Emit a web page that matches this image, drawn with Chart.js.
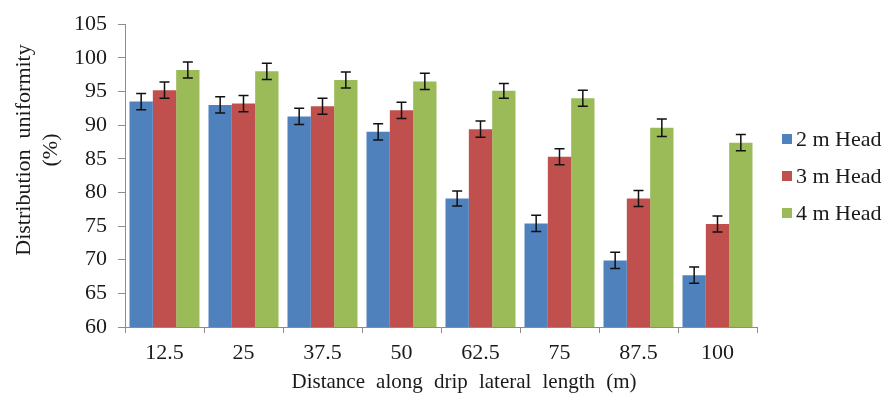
<!DOCTYPE html>
<html>
<head>
<meta charset="utf-8">
<script src="https://cdn.jsdelivr.net/npm/chart.js@4"></script>
<style>
  html, body { margin: 0; padding: 0; background: #ffffff; }
  #wrap { width: 891px; height: 394px; }
</style>
</head>
<body>
<div id="wrap"><canvas id="c" width="891" height="394"></canvas></div>
<script>
// Distribution uniformity (%) along a drip lateral, for three pressure heads
const distances = ['12.5', '25', '37.5', '50', '62.5', '75', '87.5', '100'];
const head2m = [93.5, 93.0, 91.3, 89.0, 79.1, 75.4, 69.9, 67.7];
const head3m = [95.2, 93.2, 92.8, 92.2, 89.4, 85.3, 79.1, 75.3];
const head4m = [98.2, 98.0, 96.7, 96.5, 95.1, 94.0, 89.6, 87.4];
const err2m = [1.2, 1.2, 1.2, 1.2, 1.1, 1.2, 1.2, 1.2];
const err3m = [1.2, 1.2, 1.2, 1.2, 1.2, 1.2, 1.2, 1.2];
const err4m = [1.2, 1.2, 1.2, 1.2, 1.1, 1.2, 1.3, 1.2];
const seriesNames = ['2 m Head', '3 m Head', '4 m Head'];
const yTicks = [60, 65, 70, 75, 80, 85, 90, 95, 100, 105];
const xTitle = ['Distance', 'along', 'drip', 'lateral', 'length', '(m)'];
const yTitle = ['Distribution  uniformity', '(%)'];

const FONT = '"Liberation Serif", "Times New Roman", serif';
const colors = ['#4F81BD', '#C0504D', '#9BBB59'];
const errors = [err2m, err3m, err4m];

// Error bars for each bar, from the bar's own value and the y scale
const errorBars = {
  id: 'errorBars',
  afterDatasetsDraw(chart) {
    const ctx = chart.ctx;
    const y = chart.scales.y;
    ctx.save();
    ctx.strokeStyle = '#111111';
    ctx.lineWidth = 1.5;
    chart.data.datasets.forEach((ds, di) => {
      const meta = chart.getDatasetMeta(di);
      meta.data.forEach((bar, i) => {
        const v = ds.data[i], e = errors[di][i];
        const top = y.getPixelForValue(v + e);
        const bot = y.getPixelForValue(v - e);
        const x = bar.x;
        ctx.beginPath();
        ctx.moveTo(x, top); ctx.lineTo(x, bot);
        ctx.moveTo(x - 5, top); ctx.lineTo(x + 5, top);
        ctx.moveTo(x - 5, bot); ctx.lineTo(x + 5, bot);
        ctx.stroke();
      });
    });
    ctx.restore();
  }
};

// Axis titles and legend at the right
const labels = {
  id: 'labels',
  afterDraw(chart) {
    const ctx = chart.ctx;
    ctx.save();
    ctx.fillStyle = '#1a1a1a';
    ctx.font = '21px ' + FONT;
    ctx.textBaseline = 'middle';

    // x title with wide word gaps
    const widths = xTitle.map(w => ctx.measureText(w).width);
    const total = 345;
    const gap = (total - widths.reduce((a, b) => a + b, 0)) / (xTitle.length - 1);
    let x = 464 - total / 2;
    ctx.textAlign = 'left';
    xTitle.forEach((w, i) => { ctx.fillText(w, x, 382); x += widths[i] + gap; });

    // y title, two rotated lines
    ctx.font = '22px ' + FONT;
    ctx.textAlign = 'center';
    ctx.save();
    ctx.translate(24, 150);
    ctx.rotate(-Math.PI / 2);
    ctx.fillText(yTitle[0], 0, 0);
    ctx.restore();
    ctx.save();
    ctx.translate(51, 150);
    ctx.rotate(-Math.PI / 2);
    ctx.fillText(yTitle[1], 0, 0);
    ctx.restore();

    // legend
    ctx.textAlign = 'left';
    ctx.font = '22px ' + FONT;
    seriesNames.forEach((name, i) => {
      const cy = 139 + i * 37;
      ctx.fillStyle = colors[i];
      ctx.fillRect(782, cy - 5, 10, 10);
      ctx.fillStyle = '#1a1a1a';
      ctx.fillText(name, 796, cy + 1);
    });
    ctx.restore();
  }
};

new Chart(document.getElementById('c'), {
  type: 'bar',
  data: {
    labels: distances,
    datasets: [head2m, head3m, head4m].map((d, i) => ({
      label: seriesNames[i],
      data: d,
      backgroundColor: colors[i],
      borderWidth: 0,
      categoryPercentage: 0.886,
      barPercentage: 1.0
    }))
  },
  options: {
    responsive: false,
    animation: false,
    devicePixelRatio: 1,
    layout: { padding: { left: 0, right: 134, top: 22, bottom: 0 } },
    plugins: { legend: { display: false }, tooltip: { enabled: false } },
    scales: {
      x: {
        afterFit(s) { s.height = 67; },
        grid: { display: true, drawOnChartArea: false, drawTicks: true, tickLength: 6, color: '#8c8c8c', offset: true },
        border: { display: true, color: '#8c8c8c', width: 1 },
        ticks: { color: '#1a1a1a', font: { family: FONT, size: 22 }, padding: 7, maxRotation: 0 }
      },
      y: {
        min: 60,
        max: 105,
        afterFit(s) { s.width = 125; },
        afterBuildTicks(s) { s.ticks = yTicks.map(v => ({ value: v })); },
        grid: { display: true, drawOnChartArea: false, drawTicks: true, tickLength: 7, color: '#8c8c8c' },
        border: { display: true, color: '#8c8c8c', width: 1 },
        ticks: { color: '#1a1a1a', font: { family: FONT, size: 22 }, padding: 11 }
      }
    }
  },
  plugins: [errorBars, labels]
});
</script>
</body>
</html>
